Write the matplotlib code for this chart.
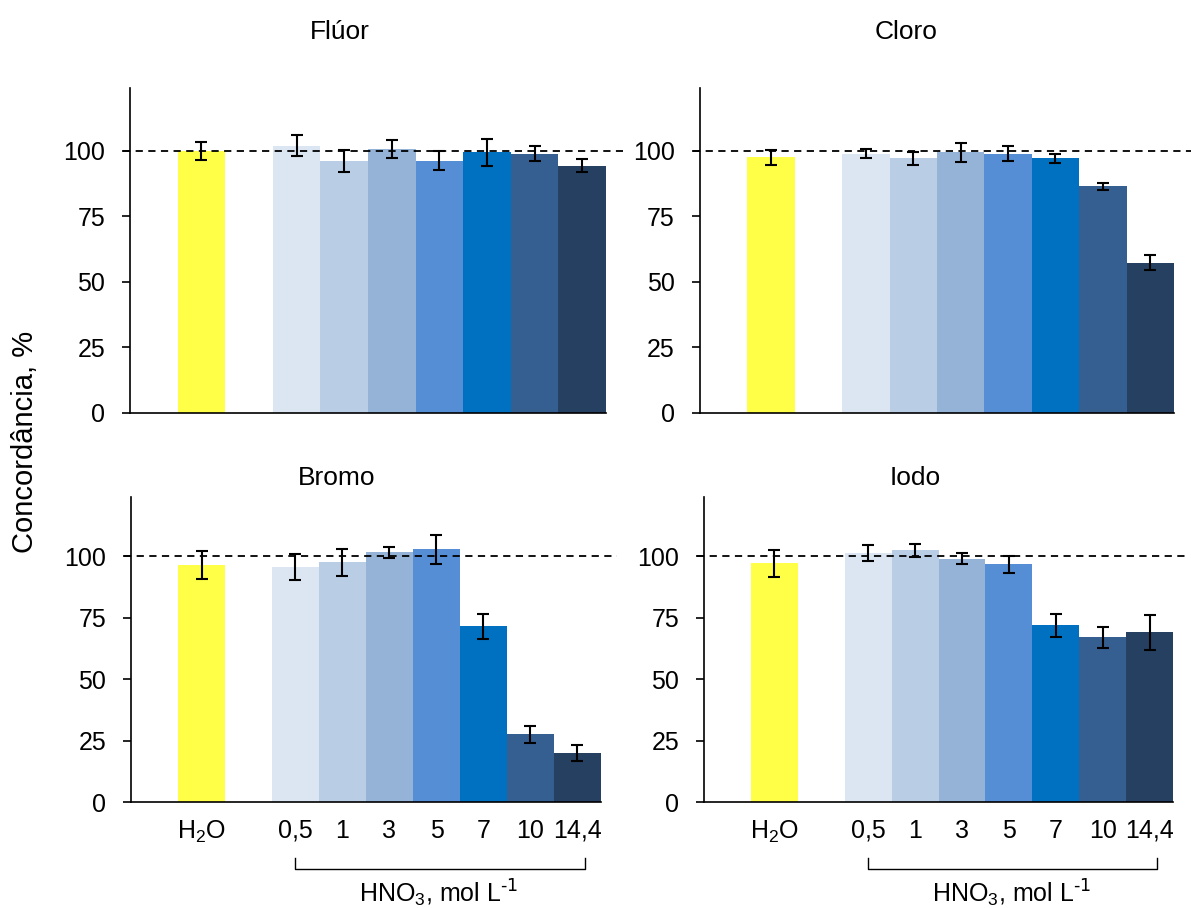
import matplotlib
matplotlib.use('Agg')
import matplotlib.pyplot as plt

plt.rcParams['font.family'] = ['Liberation Sans', 'DejaVu Sans']
plt.rcParams['mathtext.default'] = 'regular'

# categories (H2O, then HNO3 concentrations); position 1 is left empty
labels = ['H$_2$O', '0,5', '1', '3', '5', '7', '10', '14,4']
positions = [0, 2, 3, 4, 5, 6, 7, 8]
colors = ['#FFFF47', '#DCE6F2', '#B9CDE5', '#95B3D7', '#558ED5',
          '#0070C0', '#365F91', '#254061']

# values (mean, error)
fluor = [100.0, 102.0, 96.0, 100.8, 96.3, 99.4, 99.0, 94.4]
fluor_err = [3.3, 4.0, 4.2, 3.5, 3.6, 5.0, 3.0, 2.5]
cloro = [97.5, 99.0, 97.1, 99.4, 99.0, 97.1, 86.5, 57.4]
cloro_err = [2.7, 1.9, 2.3, 3.5, 2.7, 1.7, 1.4, 2.8]
bromo = [96.2, 95.4, 97.4, 101.5, 102.7, 71.4, 27.6, 19.9]
bromo_err = [5.7, 5.3, 5.3, 2.3, 5.8, 5.1, 3.5, 3.2]
iodo = [97.0, 101.1, 102.3, 99.0, 96.6, 71.9, 67.0, 69.0]
iodo_err = [5.5, 3.3, 2.8, 2.1, 3.6, 4.6, 4.2, 7.0]

fig = plt.figure(figsize=(11.91, 9.08), dpi=100)

panels = [
    ('Flúor', fluor, fluor_err, [0.1092, 0.5452, 0.3997, 0.3579], (340, 32), False),
    ('Cloro', cloro, cloro_err, [0.5877, 0.5452, 0.3980, 0.3579], (906, 32), False),
    ('Bromo', bromo, bromo_err, [0.1100, 0.1167, 0.3946, 0.3359], (337, 478), True),
    ('Iodo', iodo, iodo_err, [0.5911, 0.1167, 0.3938, 0.3359], (915, 478), True),
]

W, H = 1191, 908
fs = 18

for title, vals, errs, rect, tpos, bottom in panels:
    ax = fig.add_axes(rect)
    ax.bar(positions, vals, width=1.0, color=colors, zorder=2)
    ax.errorbar(positions, vals, yerr=errs, fmt='none', ecolor='black',
                elinewidth=1.5, capsize=4.5, capthick=1.5, zorder=4)
    # 100 % reference line
    ax.plot([-0.015, 1.035], [100, 100], transform=ax.get_yaxis_transform(),
            color='black', lw=1.3, ls=(0, (4, 3)), clip_on=False, zorder=3)

    ax.set_xlim(-1.5, 8.5)
    ax.set_ylim(0, 124)
    ax.set_yticks([0, 25, 50, 75, 100])
    ax.spines['top'].set_visible(False)
    ax.spines['right'].set_visible(False)
    ax.spines['left'].set_linewidth(1.2)
    ax.spines['bottom'].set_linewidth(1.2)
    ax.tick_params(axis='y', labelsize=fs, length=6, width=1.2, pad=12)

    if bottom:
        ax.set_xticks(positions)
        ax.set_xticklabels(labels, fontsize=fs)
        ax.tick_params(axis='x', length=0, pad=12)
        # bracket under the HNO3 labels
        tr = ax.get_xaxis_transform()
        ax.plot([2, 2, 8.15, 8.15], [-0.185, -0.22, -0.22, -0.185], transform=tr,
                color='black', lw=1.0, clip_on=False)
        ax.text(5.05, -0.3, r'HNO$_3$, mol L$^{\text{-1}}$', transform=tr,
                ha='center', va='center', fontsize=fs)
    else:
        ax.set_xticks([])

    fig.text(tpos[0] / W, 1 - tpos[1] / H, title, ha='center', va='center',
             fontsize=19)

fig.text(25 / W, 1 - 442 / H, 'Concordância, %', rotation=90,
         ha='center', va='center', fontsize=21)

fig.savefig('out.png', dpi=100)
